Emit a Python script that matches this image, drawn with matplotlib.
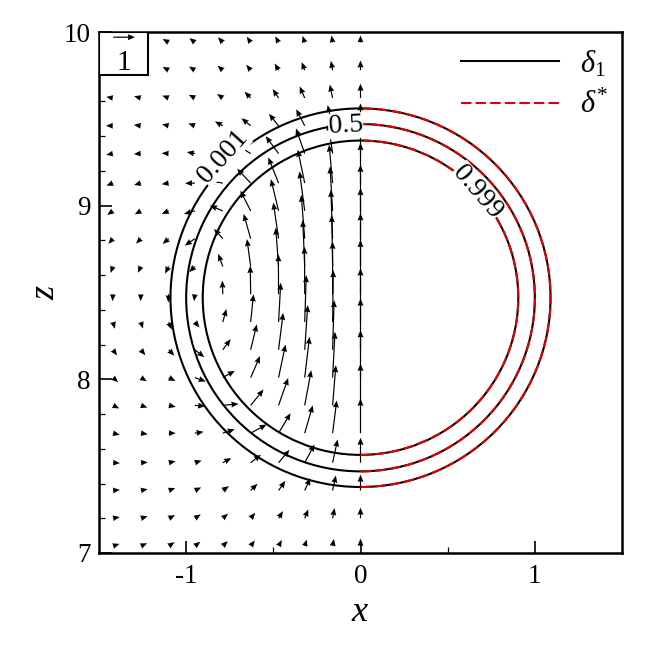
import numpy as np
import matplotlib
matplotlib.use("Agg")
import matplotlib.pyplot as plt
from matplotlib.lines import Line2D
from matplotlib.patches import Circle, Arc, Rectangle

plt.rcParams["font.family"] = ["Liberation Serif", "DejaVu Serif"]
plt.rcParams["mathtext.fontset"] = "custom"
plt.rcParams["mathtext.rm"] = "Liberation Serif"
plt.rcParams["mathtext.it"] = "Liberation Serif:italic"
plt.rcParams["axes.unicode_minus"] = False

# velocity sample points (left half only)
x_pts = [-1.42, -1.26, -1.10, -0.95, -0.79, -0.63, -0.47, -0.32, -0.16, 0.0]
z_pts = [9.94, 9.78, 9.62, 9.46, 9.30, 9.13, 8.97, 8.81, 8.65, 8.49,
         8.33, 8.17, 8.01, 7.85, 7.69, 7.52, 7.36, 7.20, 7.04]

# horizontal velocity, one row per z (top to bottom)
u_vel = [
    [-0.30, -0.29, -0.28, -0.25, -0.22, -0.18, -0.15, -0.10, -0.05, 0.0],
    [-0.31, -0.30, -0.28, -0.27, -0.24, -0.20, -0.18, -0.14, -0.08, 0.0],
    [-0.31, -0.31, -0.30, -0.28, -0.26, -0.28, -0.27, -0.23, -0.13, 0.0],
    [-0.32, -0.32, -0.31, -0.30, -0.36, -0.42, -0.44, -0.39, -0.23, 0.0],
    [-0.31, -0.32, -0.32, -0.37, -0.50, -0.64, -0.59, -0.40, -0.20, 0.0],
    [-0.30, -0.31, -0.32, -0.45, -0.68, -0.62, -0.47, -0.32, -0.16, 0.0],
    [-0.26, -0.28, -0.32, -0.50, -0.59, -0.47, -0.35, -0.24, -0.12, 0.0],
    [-0.21, -0.22, -0.28, -0.46, -0.40, -0.32, -0.24, -0.16, -0.08, 0.0],
    [-0.11, -0.13, -0.17, -0.26, -0.21, -0.17, -0.13, -0.09, -0.04, 0.0],
    [-0.02, -0.01, -0.02, -0.04, -0.02, -0.02, -0.01, -0.01, 0.00, 0.0],
    [0.09, 0.10, 0.14, 0.21, 0.17, 0.13, 0.10, 0.07, 0.03, 0.0],
    [0.19, 0.21, 0.26, 0.43, 0.36, 0.28, 0.21, 0.14, 0.07, 0.0],
    [0.24, 0.27, 0.31, 0.50, 0.55, 0.43, 0.32, 0.22, 0.11, 0.0],
    [0.29, 0.30, 0.32, 0.47, 0.72, 0.59, 0.44, 0.30, 0.15, 0.0],
    [0.31, 0.32, 0.32, 0.40, 0.55, 0.73, 0.55, 0.37, 0.19, 0.0],
    [0.32, 0.32, 0.31, 0.31, 0.39, 0.47, 0.50, 0.45, 0.23, 0.0],
    [0.32, 0.31, 0.30, 0.29, 0.28, 0.31, 0.31, 0.26, 0.15, 0.0],
    [0.31, 0.31, 0.29, 0.27, 0.24, 0.21, 0.20, 0.16, 0.09, 0.0],
    [0.30, 0.29, 0.27, 0.25, 0.23, 0.19, 0.15, 0.10, 0.06, 0.0],
]

# vertical velocity
w_vel = [
    [0.10, 0.14, 0.16, 0.20, 0.24, 0.26, 0.28, 0.30, 0.32, 0.32],
    [0.09, 0.12, 0.15, 0.17, 0.21, 0.25, 0.31, 0.37, 0.43, 0.45],
    [0.05, 0.08, 0.11, 0.15, 0.19, 0.29, 0.41, 0.53, 0.62, 0.66],
    [0.00, 0.04, 0.07, 0.11, 0.20, 0.35, 0.55, 0.76, 0.95, 1.03],
    [-0.06, -0.02, 0.02, 0.07, 0.19, 0.40, 0.80, 1.16, 1.39, 1.47],
    [-0.12, -0.09, -0.05, -0.01, 0.11, 0.66, 1.18, 1.54, 1.77, 1.85],
    [-0.19, -0.16, -0.14, -0.14, 0.25, 0.93, 1.46, 1.82, 2.05, 2.12],
    [-0.24, -0.23, -0.24, -0.32, 0.45, 1.14, 1.66, 2.02, 2.25, 2.33],
    [-0.30, -0.29, -0.33, -0.26, 0.58, 1.26, 1.79, 2.14, 2.37, 2.45],
    [-0.32, -0.32, -0.38, -0.32, 0.63, 1.31, 1.84, 2.19, 2.42, 2.50],
    [-0.31, -0.30, -0.35, -0.25, 0.60, 1.28, 1.81, 2.16, 2.39, 2.47],
    [-0.26, -0.25, -0.27, -0.34, 0.49, 1.17, 1.70, 2.06, 2.29, 2.36],
    [-0.21, -0.17, -0.16, -0.18, 0.31, 0.99, 1.52, 1.88, 2.11, 2.18],
    [-0.14, -0.10, -0.07, -0.04, 0.07, 0.73, 1.26, 1.62, 1.85, 1.92],
    [-0.08, -0.05, 0.00, 0.06, 0.18, 0.40, 0.92, 1.28, 1.51, 1.59],
    [-0.02, 0.02, 0.07, 0.10, 0.21, 0.37, 0.59, 0.84, 1.07, 1.15],
    [0.03, 0.06, 0.11, 0.14, 0.20, 0.31, 0.44, 0.57, 0.69, 0.73],
    [0.06, 0.09, 0.14, 0.18, 0.21, 0.25, 0.33, 0.41, 0.47, 0.49],
    [0.10, 0.13, 0.18, 0.20, 0.23, 0.26, 0.28, 0.30, 0.33, 0.34],
]

# iso-lines of the interface (circles), level labels
bubble_center = (0.0, 8.47)
level_radii = [1.09, 1.0, 0.905]
level_names = ["0.001", "0.5", "0.999"]
label_spots = [(-0.79, 9.285, 48), (-0.085, 9.46, 3), (0.672, 9.08, -49)]

RED = "#e00000"
DASH = (0, (5, 2))

fig = plt.figure(figsize=(6.54, 6.54), dpi=100)
ax = fig.add_axes([99 / 654, 1 - 553 / 654, 523 / 654, 521 / 654])

q = ax.quiver(x_pts, z_pts, u_vel, w_vel, angles="xy", scale_units="xy", scale=8.0,
              units="dots", width=1.2, headwidth=5, headlength=6,
              headaxislength=5.5, pivot="tail", color="black")

for rad in level_radii:
    ax.add_patch(Circle(bubble_center, rad, fill=False, ec="black", lw=1.5, zorder=3))
    ax.add_patch(Arc(bubble_center, 2 * rad, 2 * rad, theta1=-90, theta2=90,
                     ec=RED, lw=1.5, ls=DASH, zorder=4))

for name, (lx, lz, rot) in zip(level_names, label_spots):
    ax.text(lx, lz, name, fontsize=20, rotation=rot, ha="center", va="center",
            rotation_mode="anchor", zorder=5,
            bbox=dict(fc="white", ec="none", pad=0.3))

# reference vector box
ax.add_patch(Rectangle((0, 0.917), 0.094, 0.083, transform=ax.transAxes,
                       fc="white", ec="black", lw=1.5, zorder=6))
ax.quiverkey(q, 0.048, 0.99, 1, "1", coordinates="axes", labelpos="S",
             labelsep=0.13, fontproperties={"size": 21}, zorder=7)

handles = [Line2D([], [], color="black", lw=1.5),
           Line2D([], [], color=RED, lw=1.5, ls=DASH)]
ax.legend(handles, [r"$\mathit{\delta}_{\mathit{1}}$", r"$\mathit{\delta}^{*}$"],
          loc="upper right", bbox_to_anchor=(0.985, 0.98), frameon=False,
          fontsize=22, handlelength=3.2, handletextpad=0.7,
          labelspacing=0.4, borderaxespad=0.0, borderpad=0.2)

ax.set_xlim(-1.5, 1.5)
ax.set_ylim(7, 10)
ax.set_xticks([-1, 0, 1])
ax.set_xticks([-0.5, 0.5], minor=True)
ax.set_yticks([7, 8, 9, 10])
ax.set_yticks(np.arange(7.2, 10, 0.2), minor=True)
ax.tick_params(which="both", direction="in", top=False, right=False, labelsize=19.5)
ax.tick_params(which="major", length=9, width=1.2)
ax.tick_params(which="minor", length=4, width=0.9)
ax.tick_params(axis="x", pad=8)
ax.tick_params(axis="y", pad=6)
for sp in ax.spines.values():
    sp.set_linewidth(1.8)
ax.set_xlabel("$x$", fontsize=26)
ax.set_ylabel("$z$", fontsize=26)
ax.xaxis.set_label_coords(0.5, -0.082)
ax.yaxis.set_label_coords(-0.071, 0.5)

fig.savefig("out.png", dpi=100)
